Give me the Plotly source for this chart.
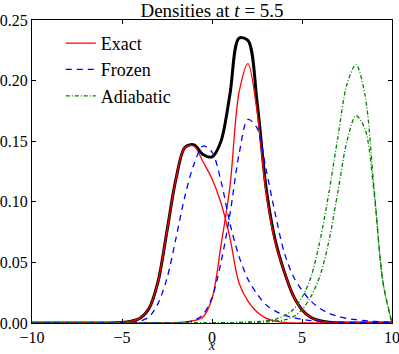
import plotly.graph_objects as go

x = [-10.0, -9.5, -9.0, -8.5, -8.0, -7.5, -7.0, -6.5, -6.0, -5.5,
     -5.0, -4.5, -4.0, -3.5, -3.0, -2.5, -2.0, -1.5, -1.0, -0.5,
     0.0, 0.5, 1.0, 1.5, 2.0, 2.5, 3.0, 3.5, 4.0, 4.5,
     5.0, 5.5, 6.0, 6.5, 7.0, 7.5, 8.0, 8.5, 9.0, 9.5, 10.0]

exact_total = [0, 0, 0, 0, 0, 0, 0, 0, 0, 0.0001,
               0.0004, 0.0015, 0.004, 0.012, 0.034, 0.076, 0.119, 0.145, 0.147, 0.139,
               0.137, 0.150, 0.189, 0.235, 0.233, 0.183, 0.112, 0.069, 0.043, 0.023,
               0.011, 0.0045, 0.0018, 0.0006, 0.0002, 0, 0, 0, 0, 0, 0]

exact_left = [0, 0, 0, 0, 0, 0, 0, 0, 0, 0.0001,
              0.0004, 0.0015, 0.004, 0.012, 0.034, 0.076, 0.119, 0.145, 0.146, 0.133,
              0.119, 0.099, 0.070, 0.033, 0.018, 0.009, 0.004, 0.0015, 0.0005, 0,
              0, 0, 0, 0, 0, 0, 0, 0, 0, 0, 0]

exact_right = [0, 0, 0, 0, 0, 0, 0, 0, 0, 0,
               0, 0, 0, 0, 0, 0, 0.0003, 0.001, 0.002, 0.005,
               0.020, 0.064, 0.113, 0.190, 0.214, 0.175, 0.108, 0.067, 0.043, 0.023,
               0.011, 0.0045, 0.0018, 0.0006, 0.0002, 0, 0, 0, 0, 0, 0]

frozen_left = [0, 0, 0, 0, 0, 0, 0, 0, 0, 0,
               0, 0.0005, 0.0015, 0.005, 0.016, 0.037, 0.070, 0.105, 0.131, 0.146,
               0.141, 0.117, 0.082, 0.055, 0.036, 0.024, 0.015, 0.010, 0.0065, 0.0045,
               0.003, 0.002, 0.0015, 0.001, 0.0008, 0.0006, 0.0005, 0.0004, 0.0003, 0.0002, 0.0002]

frozen_right = [0, 0, 0, 0, 0, 0, 0, 0, 0, 0,
                0, 0, 0, 0, 0, 0, 0, 0.0005, 0.002, 0.007,
                0.021, 0.050, 0.090, 0.139, 0.168, 0.161, 0.127, 0.091, 0.059, 0.039,
                0.027, 0.018, 0.012, 0.008, 0.0055, 0.0038, 0.0027, 0.0019, 0.0013, 0.0009, 0.0006]

adiabatic_high = [0, 0, 0, 0, 0, 0, 0, 0, 0, 0,
                  0, 0, 0, 0, 0, 0, 0, 0, 0, 0,
                  0.0001, 0.0002, 0.0003, 0.0005, 0.0008, 0.0012, 0.0018, 0.003, 0.006, 0.011,
                  0.021, 0.038, 0.068, 0.108, 0.154, 0.197, 0.213, 0.188, 0.112, 0.034, 0]

adiabatic_low = [0, 0, 0, 0, 0, 0, 0, 0, 0, 0,
                 0, 0, 0, 0, 0, 0, 0, 0, 0, 0,
                 0.0001, 0.0001, 0.0002, 0.0003, 0.0004, 0.0006, 0.0008, 0.0015, 0.0025, 0.005,
                 0.011, 0.022, 0.039, 0.068, 0.109, 0.150, 0.171, 0.160, 0.108, 0.033, 0]

x_ticks = [-10, -5, 0, 5, 10]
y_ticks = [0.00, 0.05, 0.10, 0.15, 0.20, 0.25]

FONT = "Liberation Serif"
RED = "#ff0000"
BLUE = "#0000ff"
GREEN = "#008000"
SM = 0.9

fig = go.Figure()
fig.add_trace(go.Scatter(x=x, y=exact_total, mode="lines", showlegend=False,
                         line=dict(color="black", width=3, shape="spline", smoothing=SM)))
fig.add_trace(go.Scatter(x=x, y=exact_left, mode="lines", name="Exact", legendgroup="a",
                         line=dict(color=RED, width=1.3, shape="spline", smoothing=SM)))
fig.add_trace(go.Scatter(x=x, y=exact_right, mode="lines", name="Exact", legendgroup="a", showlegend=False,
                         line=dict(color=RED, width=1.3, shape="spline", smoothing=SM)))
fig.add_trace(go.Scatter(x=x, y=frozen_left, mode="lines", name="Frozen", legendgroup="b",
                         line=dict(color=BLUE, width=1.3, dash="6px,5px", shape="spline", smoothing=SM)))
fig.add_trace(go.Scatter(x=x, y=frozen_right, mode="lines", name="Frozen", legendgroup="b", showlegend=False,
                         line=dict(color=BLUE, width=1.3, dash="6px,5px", shape="spline", smoothing=SM)))
fig.add_trace(go.Scatter(x=x, y=adiabatic_high, mode="lines", name="Adiabatic", legendgroup="c",
                         line=dict(color=GREEN, width=1.3, dash="4px,2px,1px,2px", shape="spline", smoothing=SM)))
fig.add_trace(go.Scatter(x=x, y=adiabatic_low, mode="lines", name="Adiabatic", legendgroup="c", showlegend=False,
                         line=dict(color=GREEN, width=1.3, dash="4px,2px,1px,2px", shape="spline", smoothing=SM)))

axis_common = dict(showline=True, linecolor="black", linewidth=1, mirror="ticks",
                   ticks="inside", ticklen=4, tickcolor="black", showgrid=False, zeroline=False,
                   automargin=False, ticklabeloverflow="allow",
                   tickfont=dict(family=FONT, size=16, color="black"))

fig.update_layout(
    width=399, height=354,
    margin=dict(l=32, r=7, t=20, b=31, autoexpand=False),
    paper_bgcolor="white", plot_bgcolor="white",
    font=dict(family=FONT, size=16, color="black"),
    title=dict(text="Densities at <i>t</i> = 5.5", x=0.5, xref="paper", xanchor="center",
               y=1, yref="paper", yanchor="bottom", pad=dict(b=3),
               font=dict(family=FONT, size=19, color="black")),
    xaxis=dict(range=[-10, 10], tickvals=x_ticks, **axis_common),
    yaxis=dict(range=[0, 0.25], tickvals=y_ticks, tickformat=".2f", **axis_common),
    legend=dict(x=0.08, y=0.984, xanchor="left", yanchor="top", bgcolor="rgba(0,0,0,0)",
                tracegroupgap=0, font=dict(family=FONT, size=18, color="black")),
    annotations=[dict(text="<i>x</i>", x=0.5, xref="paper", y=(322.7 - 345.5) / 302.7, yref="paper",
                      yanchor="middle", showarrow=False,
                      font=dict(family=FONT, size=14, color="black"))],
)

fig.write_html("out.html", config={"displayModeBar": False},
               post_script="document.body.style.margin='0';")
